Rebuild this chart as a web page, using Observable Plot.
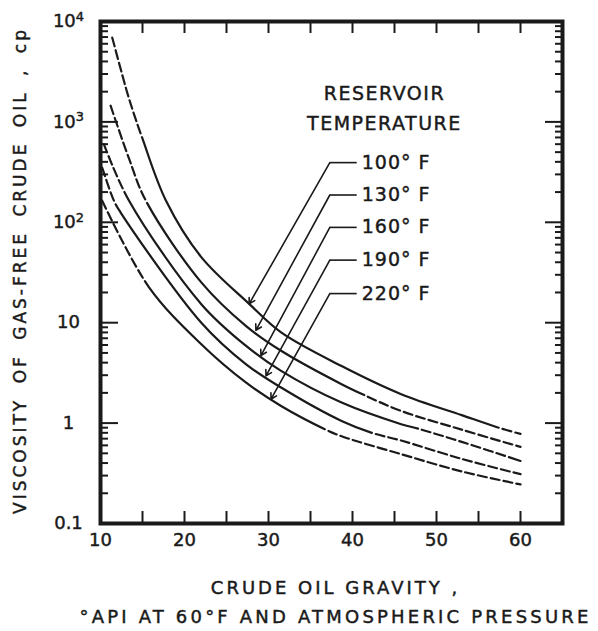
<!DOCTYPE html>
<html><head><meta charset="utf-8">
<script src="https://cdn.jsdelivr.net/npm/d3@7"></script>
<script src="https://cdn.jsdelivr.net/npm/@observablehq/plot@0.6"></script>
<style>
body{margin:0;background:#fff}
#chart svg{font-family:"DejaVu Sans",sans-serif;color:#1a1a1a}
#chart svg text{stroke:#1a1a1a;stroke-width:0.45px}
</style>
</head><body><div id="chart"></div>
<script>
// Series: [API gravity, viscosity cp]
const temps = ["100° F","130° F","160° F","190° F","220° F"];
const curve100 = [[11.4,6900],[12.4,3370],[13.4,1700],[15,680],[17.8,164],[22,45],[27.7,15.4],[31.5,8.0],[38.7,3.7],[45.8,1.94],[53,1.2],[57.4,0.9],[60,0.78]];
const curve130 = [[11.2,1450],[13.4,430],[15.4,164],[22,25.2],[27.3,9.3],[31.5,5.25],[38.7,2.44],[41.4,1.9],[45.8,1.32],[53,0.86],[60,0.58]];
const curve160 = [[10.4,600],[13.4,164],[22,15.3],[27.3,5.9],[31.5,3.31],[38.7,1.6],[45.8,0.975],[47.8,0.88],[53,0.65],[60,0.42]];
const curve190 = [[10.2,350],[11.6,164],[12.4,125],[22,10.0],[27.3,3.87],[31.5,2.26],[38.7,1.05],[42.3,0.8],[45.8,0.67],[53,0.44],[60,0.31]];
const curve220 = [[10.2,164],[15.8,22.4],[22,6.1],[27.3,2.54],[31.5,1.48],[36.7,0.87],[38.7,0.74],[45.8,0.49],[53,0.33],[60,0.245]];
// API range drawn solid (dashed outside)
const solidFrom = [15, 16, 13.4, 12.4, 15.8];
const solidTo = [57.4, 41.4, 47.8, 42.3, 36.7];

// Legend leaders (data units)
const labelY = [393, 187, 89, 42, 19.5];
const kneeX = 37.3, leaderEndX = 40.5, labelX = 41.1;
const tipX = [27.7, 28.5, 29.1, 29.7, 30.3];
const tipY = [15.4, 8.4, 4.7, 2.95, 1.73];
const legendTitle = ["RESERVOIR", "TEMPERATURE"];
const legendTitleX = 43.8;
const legendTitleY = [1915, 962];

// Axes
const xLabelTicks = [10, 20, 30, 40, 50, 60];
const xMinorTicks = [15, 20, 25, 30, 35, 40, 45, 50, 55, 60];
const yMajor = [0.1, 1, 10, 100, 1000, 10000];
const yMajorLabels = ["0.1", "1", "10", "10²", "10³", "10⁴"];
const yMinor = [];
for (const d of [0.1, 1, 10, 100, 1000]) for (let k = 2; k <= 9; k++) yMinor.push(+(d * k).toPrecision(3));
const yTitle = "VISCOSITY OF GAS-FREE CRUDE OIL , cp";
const xTitle1 = "CRUDE OIL GRAVITY ,";
const xTitle2 = "°API AT 60°F AND ATMOSPHERIC PRESSURE";

const curves = [curve100, curve130, curve160, curve190, curve220];
const legend = temps.map((t, i) => ({label: t, y: labelY[i], tx: tipX[i], ty: tipY[i]}));
const yLab = new Map(yMajor.map((v, i) => [v, yMajorLabels[i]]));
const ink = "#1a1a1a";

const chart = Plot.plot({
  width: 598, height: 631,
  marginLeft: 100, marginRight: 36, marginTop: 21, marginBottom: 108,
  x: {domain: [10, 65]},
  y: {type: "log", domain: [0.1, 10000]},
  marks: [
    ...curves.map(pts => Plot.line(pts, {x: d => d[0], y: d => d[1], curve: "catmull-rom", strokeWidth: 2.2, stroke: ink})),
    Plot.link(legend, {x1: kneeX, x2: leaderEndX, y1: "y", y2: "y", strokeWidth: 1.6, stroke: ink}),
    Plot.arrow(legend, {x1: kneeX, y1: "y", x2: "tx", y2: "ty", strokeWidth: 1.6, headLength: 6, stroke: ink}),
    Plot.text(legend, {x: labelX, y: "y", text: "label", textAnchor: "start", fontSize: 19, fill: ink}),
    Plot.text(legendTitle, {x: legendTitleX, y: (d, i) => legendTitleY[i], text: d => d, fontSize: 19, fill: ink}),
    Plot.axisY({anchor: "left", ticks: yMinor, tickSize: -8, strokeWidth: 2, fill: "none", label: null}),
    Plot.axisY({anchor: "left", ticks: yMajor, tickSize: -18, strokeWidth: 2, fill: "none", label: null}),
    Plot.axisY({anchor: "right", ticks: yMinor, tickSize: -8, strokeWidth: 2, fill: "none", label: null}),
    Plot.axisY({anchor: "right", ticks: yMajor, tickSize: -18, strokeWidth: 2, fill: "none", label: null}),
    Plot.axisY({anchor: "left", ticks: yMajor, tickSize: 0, tickPadding: 32, textAnchor: "middle", tickFormat: d => yLab.get(d), fontSize: 18, fill: ink, label: null}),
    Plot.axisX({anchor: "top", ticks: xMinorTicks, tickSize: -11, strokeWidth: 2, fill: "none", label: null}),
    Plot.axisX({anchor: "bottom", ticks: xMinorTicks, tickSize: -12, strokeWidth: 2, fill: "none", label: null}),
    Plot.axisX({anchor: "bottom", ticks: xLabelTicks, tickSize: 0, tickPadding: 10, fontSize: 18, fill: ink, label: null}),
    Plot.frame({strokeWidth: 4, stroke: ink}),
    Plot.text([yTitle], {frameAnchor: "left", textAnchor: "middle", dx: -80, dy: -2, rotate: -90, text: d => d, fontSize: 17, fill: ink}),
    Plot.text([xTitle1], {frameAnchor: "bottom", textAnchor: "middle", dx: 4, dy: 70, text: d => d, fontSize: 18, fill: ink}),
    Plot.text([xTitle2], {frameAnchor: "bottom", textAnchor: "middle", dx: 4, dy: 99, text: d => d, fontSize: 18, fill: ink})
  ]
});
document.getElementById("chart").appendChild(chart);

const svg = d3.select(chart);
svg.selectAll("text").each(function() {
  const s = this.textContent;
  if (s === yTitle) { this.setAttribute("letter-spacing", "3"); this.style.wordSpacing = "6px"; }
  else if (s === xTitle1) this.setAttribute("letter-spacing", "3");
  else if (s === xTitle2) this.setAttribute("letter-spacing", "3.2");
  else if (legendTitle.includes(s)) this.setAttribute("letter-spacing", "1.5");
  else if (temps.includes(s)) this.setAttribute("letter-spacing", "1");
  const m = /^10([²³⁴])$/.exec(s);
  if (m) {
    const sup = {"²": "2", "³": "3", "⁴": "4"}[m[1]];
    this.textContent = "10";
    d3.select(this).append("tspan").attr("dy", "-0.5em").attr("font-size", "0.72em").text(sup);
  }
});

// dashed ends, solid middle: one continuous path per curve
const xs = chart.scale("x");
svg.selectAll('g[aria-label="line"] path').each(function(_, i) {
  const p = this, L = p.getTotalLength();
  const lenAtX = px => {
    let lo = 0, hi = L;
    for (let k = 0; k < 30; k++) { const m = (lo + hi) / 2; if (p.getPointAtLength(m).x < px) lo = m; else hi = m; }
    return (lo + hi) / 2;
  };
  const L1 = lenAtX(xs.apply(solidFrom[i])), L2 = lenAtX(xs.apply(solidTo[i]));
  const arr = []; let pos = 0;
  while (pos + 13 < L1) { arr.push(9, 4); pos += 13; }
  arr.push(L2 - pos, 4); pos = L2 + 4;
  while (pos + 13 < L) { arr.push(9, 4); pos += 13; }
  arr.push(Math.max(1, L - pos), 2000);
  p.setAttribute("stroke-dasharray", arr.map(v => v.toFixed(2)).join(" "));
});
</script>
</body></html>
